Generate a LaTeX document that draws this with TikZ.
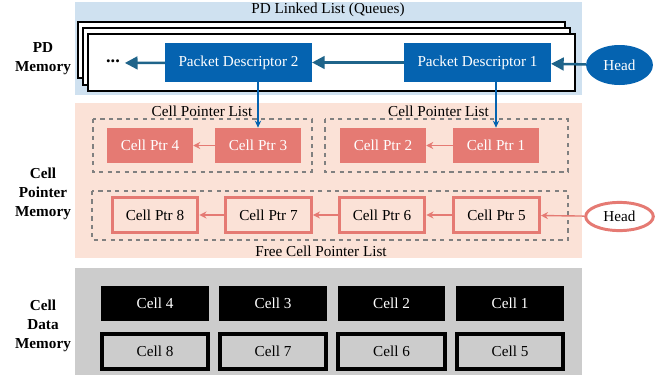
\documentclass[tikz,border=0pt]{standalone}
\usepackage{fontspec}
\setmainfont{Liberation Serif}
\usepackage{tikz}
\usetikzlibrary{arrows.meta,shapes.geometric}

\definecolor{pdbg}{RGB}{207,225,240}
\definecolor{pdblue}{RGB}{5,99,176}
\definecolor{pdarrow}{RGB}{31,100,138}
\definecolor{ptrbg}{RGB}{251,226,215}
\definecolor{salmon}{RGB}{229,122,115}
\definecolor{cellbg}{RGB}{204,204,204}

\begin{document}
\begin{tikzpicture}[x=0.71pt, y=-0.71pt,
    every node/.style={font=\fontsize{10.8}{13.5}\selectfont},
    pdbox/.style={fill=pdblue, text=white, minimum width=104pt, minimum height=27.7pt},
    ptrbox/.style={fill=salmon, text=white, minimum width=61pt, minimum height=24.9pt},
    freebox/.style={draw=salmon, line width=2.1pt, fill=ptrbg, minimum width=61pt, minimum height=24.9pt},
    fullcell/.style={fill=black, text=white, minimum width=76.5pt, minimum height=24.9pt},
    freecell/.style={draw=black, line width=2.8pt, fill=cellbg, minimum width=75.5pt, minimum height=24.9pt},
    region/.style={font=\bfseries\fontsize{10.8}{13.5}\selectfont, align=center},
    listbox/.style={draw=black!50, dashed, line width=0.9pt},
    page/.style={draw=black, fill=white, line width=1.1pt}]
    \useasboundingbox (0,0) rectangle (659,378);

    % Backgrounds of the three memories
    \fill[pdbg] (75,2) rectangle (582,95);
    \fill[ptrbg] (75,103) rectangle (582,258);
    \fill[cellbg] (75,268) rectangle (582,375);

    % Memory names
    \node[region] (pdmem) at (43,59) {PD\\Memory};
    \node[region] (ptrmem) at (43,194) {Cell\\Pointer\\Memory};
    \node[region] (datamem) at (43,326) {Cell\\Data\\Memory};

    % PD linked list (stacked queues)
    \node (queues) at (328,10) {PD Linked List (Queues)};
    \draw[page] (78,22) rectangle (565,78);
    \draw[page] (83,28) rectangle (570,85);
    \draw[page] (88,34) rectangle (575,91);
    \node[pdbox] (pd2) at (238.5,62.5) {Packet Descriptor 2};
    \node[pdbox] (pd1) at (477.5,62.5) {Packet Descriptor 1};
    \node[font=\bfseries\fontsize{13}{14}\selectfont] (dots) at (113,63) {\raisebox{3pt}{...}};
    \node[ellipse, fill=pdblue, text=white, minimum width=47.5pt, minimum height=28.4pt, inner sep=0pt] (pdhead) at (619.5,65) {Head};

    \draw[pdarrow, line width=1.8pt, -{Triangle[length=9pt,width=9pt]}] (pdhead) -- (pd1);
    \draw[pdarrow, line width=1.8pt, -{Triangle[length=9pt,width=9pt]}] (pd1) -- (pd2);
    \draw[pdarrow, line width=1.8pt, -{Triangle[length=9pt,width=9pt]}] (pd2) -- (dots);

    % Cell pointer lists
    \node (cpl1) at (202,111) {Cell Pointer List};
    \node (cpl2) at (438.5,111) {Cell Pointer List};
    \draw[listbox] (93,119) rectangle (312,172);
    \draw[listbox] (325,119) rectangle (568,172);
    \node[ptrbox] (cp4) at (150,145.5) {Cell Ptr 4};
    \node[ptrbox] (cp3) at (258,145.5) {Cell Ptr 3};
    \node[ptrbox] (cp2) at (383,145.5) {Cell Ptr 2};
    \node[ptrbox] (cp1) at (496,145.5) {Cell Ptr 1};
    \draw[salmon, line width=1pt, -{Stealth[length=5pt,width=5pt]}] (cp3) -- (cp4);
    \draw[salmon, line width=1pt, -{Stealth[length=5pt,width=5pt]}] (cp1) -- (cp2);

    % PD to first cell pointer
    \draw[pdblue, line width=0.9pt, -{Stealth[length=5pt,width=4.5pt]}] (cp3 |- pd2.south) -- (cp3);
    \draw[pdblue, line width=0.9pt, -{Stealth[length=5pt,width=4.5pt]}] (cp1 |- pd1.south) -- (cp1);

    % Free cell pointer list
    \draw[listbox] (92,191) rectangle (568,240);
    \node (freelist) at (321,251) {Free Cell Pointer List};
    \node[freebox] (cp8) at (155,215) {Cell Ptr 8};
    \node[freebox] (cp7) at (268.5,215) {Cell Ptr 7};
    \node[freebox] (cp6) at (382,215) {Cell Ptr 6};
    \node[freebox] (cp5) at (496.5,215) {Cell Ptr 5};
    \node[ellipse, draw=salmon, line width=2.1pt, fill=white, minimum width=48pt, minimum height=20pt, inner sep=0pt] (freehead) at (619.5,216.5) {Head};
    \draw[salmon, line width=1pt, -{Stealth[length=5pt,width=5pt]}] (freehead) -- (cp5);
    \draw[salmon, line width=1pt, -{Stealth[length=5pt,width=5pt]}] (cp5) -- (cp6);
    \draw[salmon, line width=1pt, -{Stealth[length=5pt,width=5pt]}] (cp6) -- (cp7);
    \draw[salmon, line width=1pt, -{Stealth[length=5pt,width=5pt]}] (cp7) -- (cp8);

    % Cell data
    \node[fullcell] (c4) at (155,303.5) {Cell 4};
    \node[fullcell] (c3) at (273,303.5) {Cell 3};
    \node[fullcell] (c2) at (391.5,303.5) {Cell 2};
    \node[fullcell] (c1) at (510,303.5) {Cell 1};
    \node[freecell] (c8) at (155,351.5) {Cell 8};
    \node[freecell] (c7) at (273,351.5) {Cell 7};
    \node[freecell] (c6) at (391.5,351.5) {Cell 6};
    \node[freecell] (c5) at (510,351.5) {Cell 5};
\end{tikzpicture}
\end{document}
